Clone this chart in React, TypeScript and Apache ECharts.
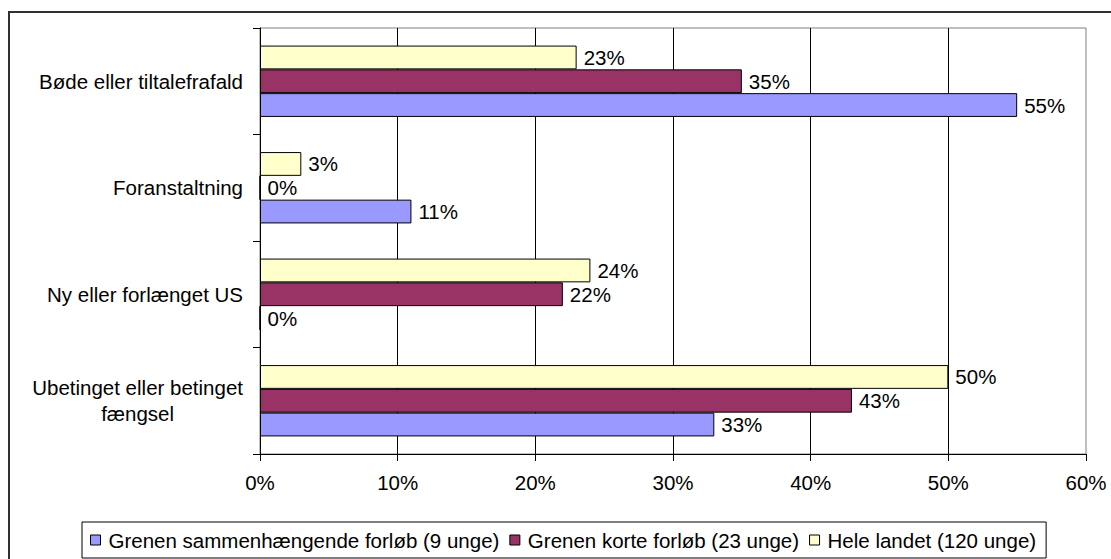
import React, { useEffect, useRef } from "react";
import * as echarts from "echarts";

const categories = [
  "Ubetinget eller betinget\nfængsel",
  "Ny eller forlænget US",
  "Foranstaltning",
  "Bøde eller tiltalefrafald",
];
const seriesNames = [
  "Grenen sammenhængende forløb (9 unge)",
  "Grenen korte forløb (23 unge)",
  "Hele landet (120 unge)",
];
const sammenhaengende = [33, 0, 11, 55];
const korte = [43, 22, 0, 35];
const heleLandet = [50, 24, 3, 23];
const seriesColors = ["#9999FF", "#993366", "#FFFFCC"];
const xTicks = { min: 0, max: 60, interval: 10 };

const FONT = '"Liberation Sans", Arial, sans-serif';
const FS = 20.5;

export default function App() {
  const ref = useRef<HTMLDivElement>(null);
  useEffect(() => {
    if (!ref.current) return;
    const chart = echarts.init(ref.current, undefined, { renderer: "svg" });
    const values = [sammenhaengende, korte, heleLandet];
    // Series drawn top-to-bottom within each group: Hele landet, korte, sammenhængende
    const order = [2, 1, 0];
    chart.setOption({
      animation: false,
      backgroundColor: "#ffffff",
      textStyle: { fontFamily: FONT, color: "#000" },
      graphic: [
        {
          type: "rect",
          shape: { x: 9, y: 12, width: 1300, height: 800 },
          style: { fill: "none", stroke: "#303030", lineWidth: 2 },
          silent: true,
          z: -10,
        },
      ],
      grid: {
        left: 260,
        right: 25,
        top: 28,
        bottom: 105,
        show: true,
        borderColor: "#808080",
        borderWidth: 1,
        backgroundColor: "transparent",
      },
      legend: {
        left: 82,
        top: 522,
        orient: "horizontal",
        icon: "rect",
        itemWidth: 10,
        itemHeight: 10,
        itemGap: 10,
        padding: [6, 10, 6, 8],
        borderColor: "#000",
        borderWidth: 1,
        itemStyle: { borderColor: "#000", borderWidth: 1 },
        textStyle: {
          fontFamily: FONT,
          fontSize: FS,
          color: "#000",
          lineHeight: 24,
          padding: [0, 0, 0, 3],
        },
        data: seriesNames,
      },
      xAxis: {
        type: "value",
        min: xTicks.min,
        max: xTicks.max,
        interval: xTicks.interval,
        axisLine: { show: true, lineStyle: { color: "#000", width: 1 } },
        axisTick: { show: true, length: 7, lineStyle: { color: "#000" } },
        axisLabel: {
          formatter: "{value}%",
          fontFamily: FONT,
          fontSize: FS,
          color: "#000",
          margin: 18,
        },
        splitLine: {
          show: true,
          showMaxLine: false,
          lineStyle: { color: "#000", width: 1 },
        },
      },
      yAxis: {
        type: "category",
        data: categories,
        axisLine: { show: true, lineStyle: { color: "#000", width: 1 } },
        axisTick: { show: true, length: 7, lineStyle: { color: "#000" } },
        axisLabel: {
          margin: 17,
          align: "right",
          formatter: (v: string) =>
            v
              .split("\n")
              .map((l) => `{c|${l}}`)
              .join("\n"),
          rich: {
            c: {
              align: "center",
              fontFamily: FONT,
              fontSize: FS,
              color: "#000",
              lineHeight: 26,
            },
          },
        },
        splitLine: { show: false },
      },
      series: order.map((i) => ({
        name: seriesNames[i],
        type: "bar",
        data: values[i],
        barGap: "0%",
        barCategoryGap: "33%",
        itemStyle: {
          color: seriesColors[i],
          borderColor: "#000",
          borderWidth: 1,
        },
        label: {
          show: true,
          position: "right",
          distance: 7,
          formatter: "{c}%",
          fontFamily: FONT,
          fontSize: FS,
          color: "#000",
        },
        z: 3,
      })),
    });
    return () => chart.dispose();
  }, []);
  return (
    <div
      ref={ref}
      style={{ position: "fixed", left: 0, top: 0, width: 1111, height: 559 }}
    />
  );
}
